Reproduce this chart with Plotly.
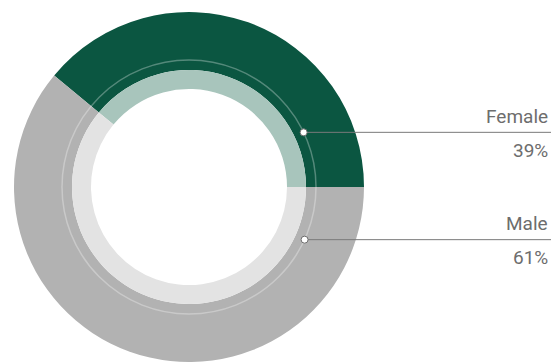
import math
import plotly.graph_objects as go

categories = ["Female", "Male"]
values = [39, 61]
outer_colors = ["#0B5641", "#B2B2B2"]
inner_colors = ["#A8C5BC", "#E3E3E3"]

W, H = 559, 364
cx, cy = 189, 187
r_outer, r_mid, r_hole, r_line = 175, 117, 98, 127

def xdom(r):
    return [(cx - r) / W, (cx + r) / W]

def ydom(r):
    return [1 - (cy + r) / H, 1 - (cy - r) / H]

# first slice (Female) ends at 3 o'clock, running counterclockwise from there
rot = 90 - 360 * values[0] / sum(values)

fig = go.Figure()
fig.add_trace(go.Pie(
    labels=categories, values=values, sort=False, direction="clockwise",
    rotation=rot, hole=r_mid / r_outer, marker=dict(colors=outer_colors, line=dict(width=0)),
    textinfo="none", hoverinfo="label+percent", showlegend=False,
    domain=dict(x=xdom(r_outer), y=ydom(r_outer)),
))
fig.add_trace(go.Pie(
    labels=categories, values=values, sort=False, direction="clockwise",
    rotation=rot, hole=r_hole / r_mid, marker=dict(colors=inner_colors, line=dict(width=0)),
    textinfo="none", hoverinfo="label+percent", showlegend=False,
    domain=dict(x=xdom(r_mid), y=ydom(r_mid)),
))

shapes = [dict(type="circle", xref="x", yref="y", x0=cx - r_line, x1=cx + r_line,
               y0=cy - r_line, y1=cy + r_line,
               line=dict(color="rgba(255,255,255,0.3)", width=1.5))]
annotations = []
label_x = 550
dot_angles = [25.5, -24.5]
font = dict(family="Roboto", size=19, color="#6d6d6d")
for cat, val, ang in zip(categories, values, dot_angles):
    dx = cx + r_line * math.cos(math.radians(ang))
    dy = cy - r_line * math.sin(math.radians(ang))
    shapes.append(dict(type="line", xref="x", yref="y", x0=dx, x1=label_x + 1, y0=dy, y1=dy,
                       line=dict(color="#7a7a7a", width=1)))
    shapes.append(dict(type="circle", xref="x", yref="y", x0=dx - 3.5, x1=dx + 3.5,
                       y0=dy - 3.5, y1=dy + 3.5, fillcolor="white",
                       line=dict(color="#6f6f6f", width=1)))
    annotations.append(dict(x=label_x, y=dy - 16, xref="x", yref="y", text=cat,
                            showarrow=False, xanchor="right", yanchor="middle",
                            font=font))
    annotations.append(dict(x=label_x, y=dy + 18, xref="x", yref="y", text=f"{val}%",
                            showarrow=False, xanchor="right", yanchor="middle",
                            font=font))

fig.update_layout(
    width=W, height=H, margin=dict(l=0, r=0, t=0, b=0),
    paper_bgcolor="white", plot_bgcolor="rgba(0,0,0,0)",
    xaxis=dict(range=[0, W], visible=False, fixedrange=True),
    yaxis=dict(range=[H, 0], visible=False, fixedrange=True),
    shapes=shapes, annotations=annotations,
)
fig.write_html("out.html")
